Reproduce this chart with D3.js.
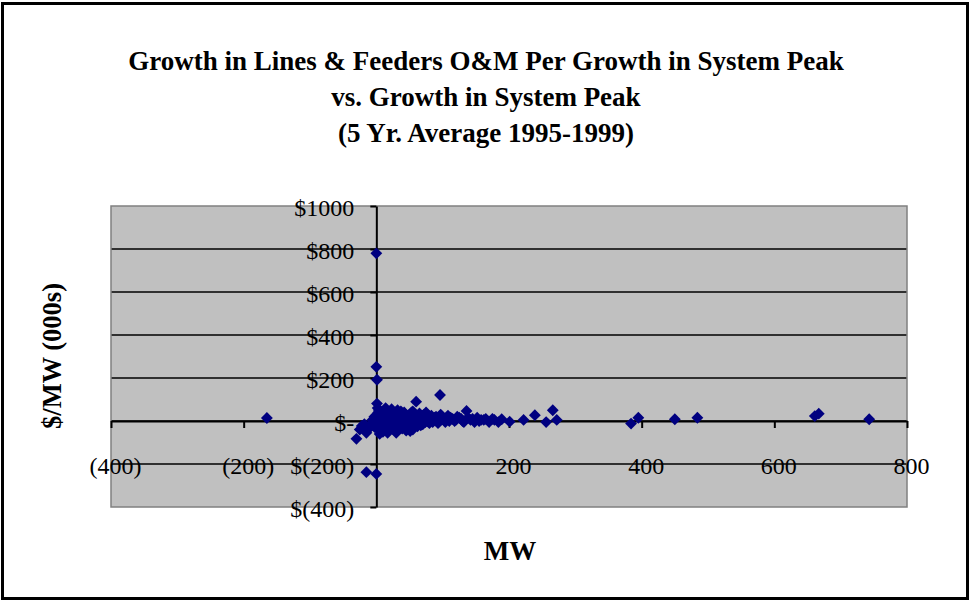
<!DOCTYPE html>
<html>
<head>
<meta charset="utf-8">
<script src="https://cdn.jsdelivr.net/npm/d3@7"></script>
<style>
  html, body { margin: 0; padding: 0; background: #fff; }
  svg { display: block; font-family: "Liberation Serif", "Times New Roman", serif; }
</style>
</head>
<body>
<svg id="chart" width="971" height="603"></svg>
<script>
// Growth in system peak (MW) for each utility
const mwGrowth = [
  -165, 0, 0, 1, -30, -15, 0, -22, -15,
  1, 2, 3, 5, 2, 4, 6, 3, 8, 10, 12, -5, -8, -12, -3, -6,
  15, 18, 20, 22, 17, 25, 28, 30, 26, 32, 35, 38, 40, 36,
  42, 45, 48, 51, 50, 55, 58, 60, 62, 60, 65, 68, 70, 72,
  75, 78, 80, 83, 86, 90, 93, 96, 97, 100, 104, 108, 112,
  118, 122, 128, 132, 136, 138, 142, 148, 152, 158, 165,
  170, 178, 184, 189, 201, 222, 239, 256, 266, 272,
  384, 395, 450, 484, 661, 667, 743,
  2, 4, 7, 9, 11, 13, 14, 16, 19, 21, 23, 24, 27, 29, 31, 33, 34, 37, 39,
  41, 43, 44, 46, 47, 49, 52, 53, 54, 56, 57, 59, 61, 63, 64, 66, 67, 69,
  71, 73, 74, 76, 77, 79, 82, 85, 88, 91, 95, 99, 102, 106, 110, 115, 120,
  125, 130, 145, 155, 162, 175, -2, -10, -18, -25, 5, 10, 30, 45, 55
];
// Growth in lines & feeders O&M per MW of peak growth ($000s)
const omPerMw = [
  14, 780, 252, 192, -83, -238, -246, -23, -55,
  81, 60, 40, 25, 10, -5, -20, -35, 30, 15, -10, -10, -25, -35, 20, 5,
  45, 20, -5, -30, -55, 35, 10, -15, -40, 50, 25, 0, -20, 30,
  40, 15, -10, -47, 30, 45, 20, -5, -25, 90, 35, 10, -15, 30,
  40, 15, -10, 25, 5, 20, -10, 121, 30, 10, -5, 25, 15,
  0, 20, 10, -5, 47, 15, 5, -5, 15, 5, 10,
  -5, 5, -5, 8, -3, 5, 27, -5, 50, 5,
  -12, 15, 8, 15, 23, 34, 8,
  -15, 50, -45, 5, 35, -25, 60, 0, -20, 30, 55, -10, -25, 40, 5, -30, 15, 45, -35,
  10, -5, 30, -25, 5, 20, -15, 40, 10, -30, 25, 0, 15, -10, 5, 20, -20, 25,
  0, 10, -5, 20, 0, 25, 5, -5, 15, 5, 0, 20, 5, 15, 0, 10, 5,
  15, 0, 10, 0, 5, 10, -30, -20, -15, -40, -60, -50, -55, -45, -40
];

const titleLines = [
  "Growth in Lines & Feeders O&M Per Growth in System Peak",
  "vs. Growth in System Peak",
  "(5 Yr. Average 1995-1999)"
];
const xTicks = [-400, -200, 0, 200, 400, 600, 800];
const yTicks = [-400, -200, 0, 200, 400, 600, 800, 1000];
const xAxisTitle = "MW";
const yAxisTitle = "$/MW (000s)";

const points = mwGrowth.map((v, i) => ({ x: v, y: omPerMw[i] }));

const svg = d3.select("#chart");
const plot = { left: 111, right: 907, top: 206, bottom: 507 };

const x = d3.scaleLinear().domain([-400, 800]).range([plot.left, plot.right]);
const y = d3.scaleLinear().domain([-400, 1000]).range([plot.bottom, plot.top]);

// Outer frame
svg.append("rect")
  .attr("x", 2.5).attr("y", 3.5)
  .attr("width", 965).attr("height", 595)
  .attr("fill", "#fff").attr("stroke", "#000").attr("stroke-width", 3);

// Title
const title = svg.append("text")
  .attr("text-anchor", "middle")
  .attr("font-weight", "bold")
  .attr("font-size", 27)
  .attr("fill", "#000");
titleLines.forEach((t, i) => {
  title.append("tspan").attr("x", 486).attr("y", 70 + i * 36).text(t);
});

// Plot background
svg.append("rect")
  .attr("x", plot.left).attr("y", plot.top)
  .attr("width", plot.right - plot.left).attr("height", plot.bottom - plot.top)
  .attr("fill", "#c0c0c0");

// Horizontal gridlines
svg.append("g")
  .selectAll("line")
  .data(yTicks.filter(t => t > -400 && t < 1000))
  .join("line")
  .attr("x1", plot.left).attr("x2", plot.right)
  .attr("y1", d => y(d)).attr("y2", d => y(d))
  .attr("stroke", "#000").attr("stroke-width", 1.5);

// Plot border
svg.append("rect")
  .attr("x", plot.left).attr("y", plot.top)
  .attr("width", plot.right - plot.left).attr("height", plot.bottom - plot.top)
  .attr("fill", "none").attr("stroke", "#808080").attr("stroke-width", 1.5);

const fmtX = d => d === 0 ? "" : (d < 0 ? `(${-d})` : `${d}`);
const fmtY = d => d === 0 ? "$-" : (d < 0 ? `$(${-d})` : `$${d}`);

// X axis crossing at y = 0
const gx = svg.append("g")
  .attr("transform", `translate(0,${y(0)})`)
  .call(d3.axisBottom(x).tickValues(xTicks).tickFormat(fmtX).tickSize(7).tickSizeOuter(0).tickPadding(29));
gx.select(".domain").attr("stroke", "#000").attr("stroke-width", 2);
gx.selectAll(".tick line").attr("stroke", "#000").attr("stroke-width", 2);
gx.selectAll(".tick text")
  .attr("font-size", 24).attr("fill", "#000")
  .attr("font-family", "Liberation Serif, Times New Roman, serif")
  .attr("dx", 4);

// Y axis crossing at x = 0
const gy = svg.append("g")
  .attr("transform", `translate(${x(0)},0)`)
  .call(d3.axisLeft(y).tickValues(yTicks).tickFormat(fmtY).tickSize(6).tickSizeOuter(0).tickPadding(16));
gy.select(".domain").attr("stroke", "#000").attr("stroke-width", 2);
gy.selectAll(".tick line").attr("stroke", "#000").attr("stroke-width", 2);
gy.selectAll(".tick text")
  .attr("font-size", 24).attr("fill", "#000")
  .attr("font-family", "Liberation Serif, Times New Roman, serif")
  .attr("dy", "0.38em");

// Data markers
const diamond = d3.symbol().type(d3.symbolSquare).size(70);
svg.append("g")
  .selectAll("path")
  .data(points)
  .join("path")
  .attr("d", diamond)
  .attr("transform", d => `translate(${x(d.x)},${y(d.y)}) rotate(45)`)
  .attr("fill", "#000080");

// Axis titles
svg.append("text")
  .attr("x", 510).attr("y", 560)
  .attr("text-anchor", "middle")
  .attr("font-weight", "bold").attr("font-size", 27)
  .text(xAxisTitle);

svg.append("text")
  .attr("transform", "translate(61,356) rotate(-90)")
  .attr("text-anchor", "middle")
  .attr("font-weight", "bold").attr("font-size", 26.5)
  .text(yAxisTitle);
</script>
</body>
</html>
